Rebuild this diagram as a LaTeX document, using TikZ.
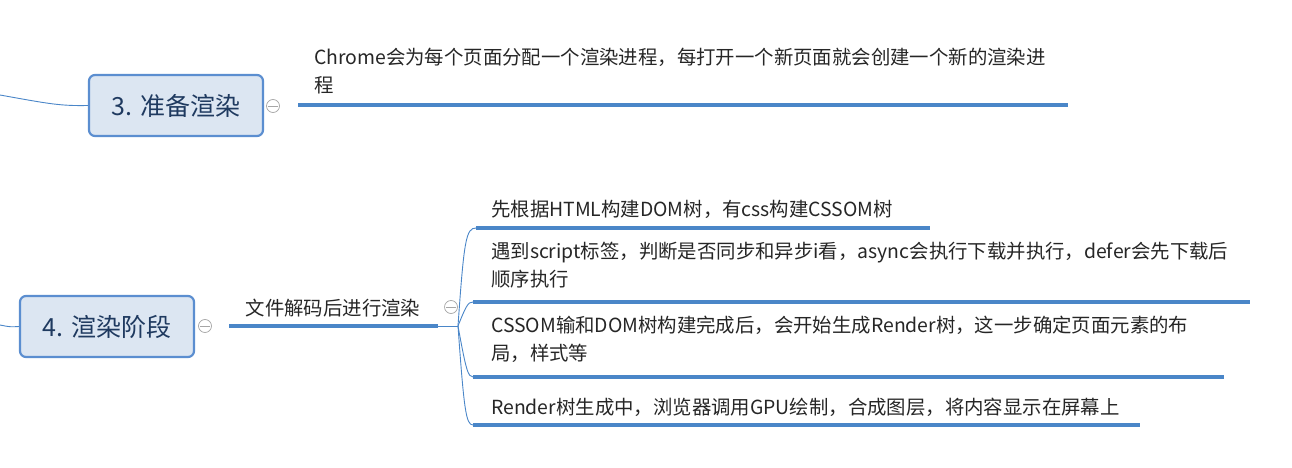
\documentclass[tikz,border=0pt]{standalone}
\usepackage{fontspec}
\setmainfont{Noto Sans CJK SC}
\definecolor{bl}{HTML}{4A86C8}
\definecolor{nodef}{HTML}{DCE6F2}
\definecolor{nodeb}{HTML}{5B8ED0}
\definecolor{tx}{HTML}{1F3A60}
\begin{document}
\begin{tikzpicture}[x=1pt,y=-1pt,
  topic/.style={draw=nodeb,line width=2.2pt,fill=nodef,rounded corners=6pt,minimum width=174pt,minimum height=61pt,font=\fontsize{25}{29}\selectfont,text=tx},
  ul/.style={bl,line width=3.5pt},
  thin/.style={bl,line width=0.9pt},
  coll/.style={circle,draw=gray!70,fill=white,inner sep=0pt,minimum size=13pt,line width=0.7pt},
  lbl/.style={anchor=west,font=\fontsize{19.4}{27.5}\selectfont,align=left,inner sep=0pt,text=black!85}]
\useasboundingbox (0,0) rectangle (1292,468);
\node[topic] (n3) at (176,105.5) {3. 准备渲染};
\coordinate (l3) at (0,95);
\draw[thin] (l3) .. controls (50,104) and (60,106) .. (n3.west);
\node[coll] (c3) at (273,106) {};
\draw[gray!70,line width=0.7pt] (268,106) -- (278,106);
\coordinate (a3) at (298,105); \coordinate (b3) at (1068,105);
\draw[ul] (a3) -- (b3);
\node[lbl,anchor=north west] (t3) at (314,48) {Chrome会为每个页面分配一个渲染进程，每打开一个新页面就会创建一个新的渲染进\\程};

\node[topic] (n4) at (107,326.5) {4. 渲染阶段};
\coordinate (l4) at (0,325);
\draw[thin] (l4) .. controls (10,327) .. (n4.west);
\node[coll] (c4) at (205,326) {};
\draw[gray!70,line width=0.7pt] (200,326) -- (210,326);
\coordinate (a4) at (229,326); \coordinate (b4) at (438,326);
\draw[ul] (a4) -- (b4);
\node[font=\fontsize{19.4}{22}\selectfont,text=black!85] (t4) at (333,308) {文件解码后进行渲染};
\coordinate (hub) at (458,326);
\draw[thin] (b4) -- (hub);
\node[coll] (c5) at (451,307) {};
\draw[gray!70,line width=0.7pt] (446,307) -- (456,307);

\coordinate (s1) at (476,228); \coordinate (e1) at (930,228);
\coordinate (s2) at (473,302); \coordinate (e2) at (1250,302);
\coordinate (s3) at (473,377); \coordinate (e3) at (1224,377);
\coordinate (s4) at (473,425); \coordinate (e4) at (1140,425);
\foreach \i in {1,...,4}{\draw[ul] (s\i) -- (e\i);}
\draw[thin] (hub) .. controls (464,240) and (466,228) .. (s1);
\draw[thin] (hub) .. controls (466,306) and (468,302) .. (s2);
\draw[thin] (hub) .. controls (466,370) and (468,377) .. (s3);
\draw[thin] (hub) .. controls (464,410) and (466,425) .. (s4);
\node[lbl] (x1) at (491,209) {先根据HTML构建DOM树，有css构建CSSOM树};
\node[lbl,anchor=north west] (x2) at (491,242) {遇到script标签，判断是否同步和异步i看，async会执行下载并执行，defer会先下载后\\顺序执行};
\node[lbl,anchor=north west] (x3) at (491,316) {CSSOM输和DOM树构建完成后，会开始生成Render树，这一步确定页面元素的布\\局，样式等};
\node[lbl] (x4) at (491,407) {Render树生成中，浏览器调用GPU绘制，合成图层，将内容显示在屏幕上};
\end{tikzpicture}
\end{document}
